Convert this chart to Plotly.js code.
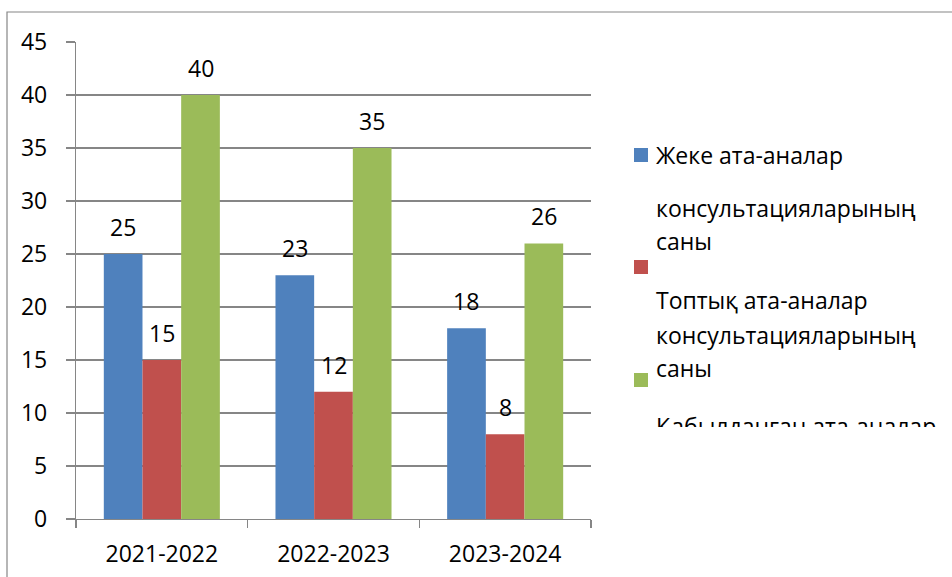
<!DOCTYPE html>
<html>
<head>
<meta charset="utf-8">
<script src="https://cdn.plot.ly/plotly-3.0.1.min.js"></script>
<style>
html,body{margin:0;padding:0;background:#fff;}
#chart{width:952px;height:577px;}
</style>
</head>
<body>
<div id="chart"></div>
<script>
// ---- data ----
const categories = ["2021-2022", "2022-2023", "2023-2024"];
const individualConsultations = [25, 23, 18];
const groupConsultations = [15, 12, 8];
const receivedParents = [40, 35, 26];
const seriesNames = [
  "Жеке ата-аналар консультацияларының саны",
  "Топтық ата-аналар консультацияларының саны",
  "Қабылданған ата-аналар саны"
];
const yTickValues = [0, 5, 10, 15, 20, 25, 30, 35, 40, 45];

// ---- style ----
const colors = ["#4F81BD", "#C0504D", "#9BBB59"];
const FONT = "Open Sans, Lato, sans-serif";
const FS = 23;
const W = 952, H = 577;
const L = 76, R = 591, T = 42, B = 519;
const plotW = R - L, plotH = B - T;
const bargap = 0.324;
const px2x = px => (px - L) / plotW;
const px2y = py => (B - py) / plotH;

const seriesValues = [individualConsultations, groupConsultations, receivedParents];

const traces = seriesValues.map((vals, i) => ({
  type: "bar",
  name: seriesNames[i],
  x: categories,
  y: vals,
  marker: {color: colors[i], line: {width: 0}},
  showlegend: false,
  hoverinfo: "skip"
}));

// data labels
const catPx = plotW / categories.length;
const barW = catPx * (1 - bargap) / seriesValues.length;
const annotations = [];
seriesValues.forEach((vals, i) => {
  vals.forEach((v, j) => {
    annotations.push({
      xref: "x", yref: "y", x: categories[j], y: v,
      text: String(v), showarrow: false,
      xshift: (i - 1) * barW, yshift: 27,
      yanchor: "middle", xanchor: "center",
      font: {family: FONT, size: FS, color: "#000"}
    });
  });
});

// legend (Excel-like, wrapped text beside markers)
function splitName(n) {
  const w = n.split(" ");
  return [w.slice(0, 2).join(" "), w.slice(2, w.length - 1).join(" "), w[w.length - 1]];
}
const legendLines = [
  {s: 0, lines: splitName(seriesNames[0]), ys: [155, 208, 241]},
  {s: 1, lines: splitName(seriesNames[1]), ys: [300, 335, 368]},
  {s: 2, lines: splitName(seriesNames[2]), ys: [426]}
];
const markerYs = [155, 267, 380];
const shapes = [];
markerYs.forEach((my, i) => {
  shapes.push({
    type: "rect", xref: "paper", yref: "paper",
    x0: px2x(634), x1: px2x(648), y0: px2y(my - 7), y1: px2y(my + 7),
    fillcolor: colors[i], line: {width: 0}
  });
});
legendLines.forEach(g => {
  g.ys.forEach((y, k) => {
    annotations.push({
      xref: "paper", yref: "paper", x: px2x(654), y: px2y(y),
      xanchor: "left", yanchor: "middle", showarrow: false,
      text: g.lines[k],
      font: {family: FONT, size: FS, color: "#000"}
    });
  });
});
// clip the legend at the bottom (legend box boundary)
annotations.push({
  xref: "paper", yref: "paper", x: px2x(620), y: px2y(427),
  xanchor: "left", yanchor: "top", showarrow: false,
  text: " ", width: 330, height: 160, bgcolor: "#ffffff",
  borderpad: 0, borderwidth: 0
});

// outer chart border
shapes.push({
  type: "rect", xref: "paper", yref: "paper",
  x0: px2x(7), x1: px2x(W + 20), y0: px2y(12), y1: px2y(H + 20),
  line: {color: "#868686", width: 1.2}, fillcolor: "rgba(0,0,0,0)", layer: "below"
});

const layout = {
  width: W, height: H,
  margin: {l: L, r: W - R, t: T, b: H - B, pad: 0},
  paper_bgcolor: "#fff", plot_bgcolor: "#fff",
  barmode: "group", bargap: bargap, bargroupgap: 0,
  font: {family: FONT, size: FS, color: "#000"},
  showlegend: false,
  xaxis: {
    type: "category",
    showline: true, linecolor: "#868686", linewidth: 1.2,
    ticks: "outside", tickson: "boundaries", ticklen: 8, tickcolor: "#868686", tickwidth: 1.2,
    ticklabelstandoff: 14,
    showgrid: false, zeroline: false,
    tickfont: {family: FONT, size: FS, color: "#000"}
  },
  yaxis: {
    range: [0, 45], tickvals: yTickValues,
    showline: true, linecolor: "#868686", linewidth: 1.2,
    ticks: "outside", ticklen: 9, tickcolor: "#868686", tickwidth: 1.2,
    ticklabelstandoff: 14,
    showgrid: true, gridcolor: "#868686", gridwidth: 1.2,
    zeroline: false,
    tickfont: {family: FONT, size: FS, color: "#000"}
  },
  annotations: annotations,
  shapes: shapes
};

Plotly.newPlot("chart", traces, layout, {displayModeBar: false, staticPlot: true});
</script>
</body>
</html>
